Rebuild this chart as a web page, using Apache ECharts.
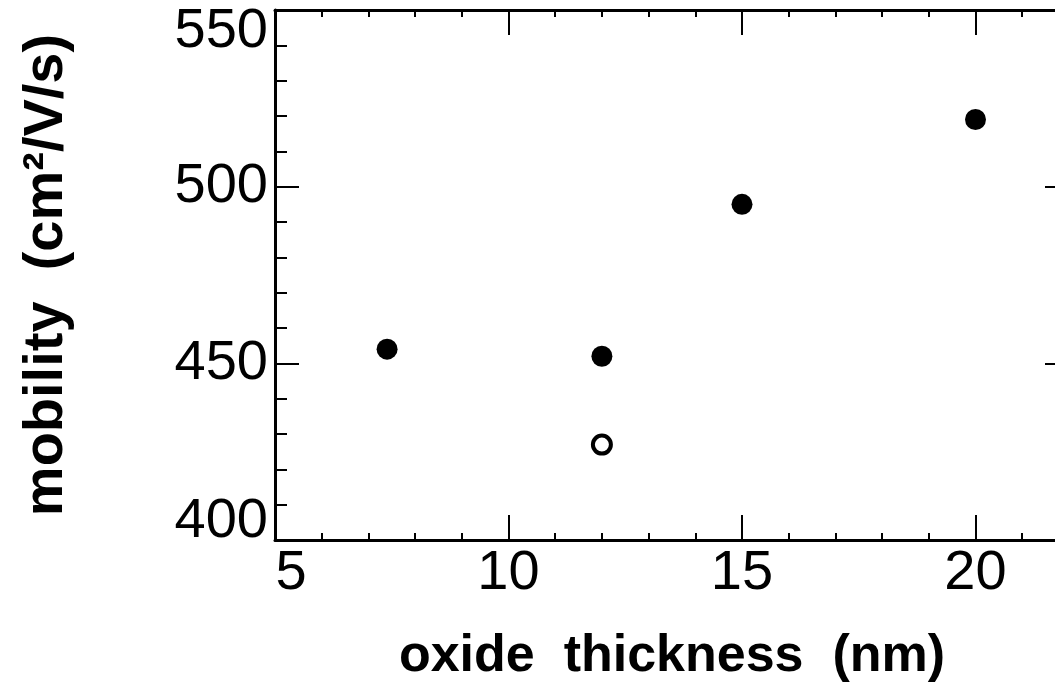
<!DOCTYPE html>
<html><head><meta charset="utf-8">
<script src="https://cdn.jsdelivr.net/npm/echarts@6/dist/echarts.min.js"></script>
<style>html,body{margin:0;padding:0;background:#fff}#c{width:1055px;height:690px}</style>
</head><body><div id="c"></div>
<script>
const thicknessFilled = [7.4, 12.0, 15.0, 20.0];
const mobilityFilled = [454, 452, 495, 519];
const thicknessOpen = [12.0];
const mobilityOpen = [427];
const xTickLabels = [5, 10, 15, 20];
const yTickLabels = [400, 450, 500, 550];
const xTitle = 'oxide  thickness  (nm)';
const yTitle = 'mobility  (cm²/V/s)';

const F = '"Liberation Sans", Arial, sans-serif';
const chart = echarts.init(document.getElementById('c'), null, {renderer: 'canvas'});

const base = {fontSize: 56, fontFamily: F, color: '#000'};
const xFmt = v => {
  if (!xTickLabels.includes(v)) return '';
  if (v === xTickLabels[0]) return '{first|' + v + '}';
  return '{n|' + v + '}';
};
const yFmt = v => {
  if (!yTickLabels.includes(v)) return '';
  if (v === yTickLabels[0]) return '{lo|' + v + '}';
  if (v === yTickLabels[yTickLabels.length - 1]) return '{hi|' + v + '}';
  return '{n|' + v + '}';
};
const line = {show: true, onZero: false, lineStyle: {color: '#000', width: 3}};
const tickStyle = {color: '#000', width: 2};

function xAxisDef(pos, labels) {
  return {
    type: 'value', position: pos, min: 5, max: 25, interval: 5,
    axisLine: line,
    axisTick: {show: true, inside: true, length: 25, lineStyle: tickStyle},
    minorTick: {show: true, splitNumber: 5, length: 7, lineStyle: tickStyle},
    splitLine: {show: false}, minorSplitLine: {show: false},
    axisLabel: labels ? {show: true, margin: 6, formatter: xFmt,
      rich: {n: base, first: Object.assign({}, base, {padding: [0, 0, 0, 32]})}} : {show: false}
  };
}
function yAxisDef(pos, labels, offset) {
  return {
    type: 'value', position: pos, offset: offset, min: 400, max: 550, interval: 50,
    axisLine: line,
    axisTick: {show: true, inside: true, length: 24, lineStyle: tickStyle},
    minorTick: {show: true, splitNumber: 5, length: 12, lineStyle: tickStyle},
    splitLine: {show: false}, minorSplitLine: {show: false},
    axisLabel: labels ? {show: true, margin: 7, formatter: yFmt,
      rich: {n: base,
        hi: Object.assign({}, base, {padding: [44, 0, 0, 0]}),
        lo: Object.assign({}, base, {padding: [0, 0, 37, 0]})}} : {show: false}
  };
}

const xa0 = xAxisDef('bottom', true);
Object.assign(xa0, {name: xTitle, nameLocation: 'middle', nameGap: 91,
  nameTextStyle: {fontSize: 52, fontWeight: 'bold', fontFamily: F, color: '#000', padding: [0, 140, 0, 0]}});
const ya0 = yAxisDef('left', true, 0);
Object.assign(ya0, {name: yTitle, nameLocation: 'middle', nameGap: 200, nameRotate: 90,
  nameTextStyle: {fontSize: 56, fontWeight: 'bold', fontFamily: F, color: '#000'}});

chart.setOption({
  animation: false,
  backgroundColor: '#fff',
  grid: {left: 275, top: 10, width: 934, height: 530, containLabel: false, outerBoundsMode: 'none'},
  xAxis: [xa0, xAxisDef('top', false)],
  yAxis: [ya0, yAxisDef('right', false, -140)],
  series: [
    {type: 'scatter', xAxisIndex: 0, yAxisIndex: 0, symbol: 'circle', symbolSize: 21,
     itemStyle: {color: '#000', opacity: 1},
     data: thicknessFilled.map((x, i) => [x, mobilityFilled[i]])},
    {type: 'scatter', xAxisIndex: 0, yAxisIndex: 0, symbol: 'circle', symbolSize: 18,
     itemStyle: {color: '#fff', borderColor: '#000', borderWidth: 4, opacity: 1},
     data: thicknessOpen.map((x, i) => [x, mobilityOpen[i]])}
  ]
});
</script></body></html>
